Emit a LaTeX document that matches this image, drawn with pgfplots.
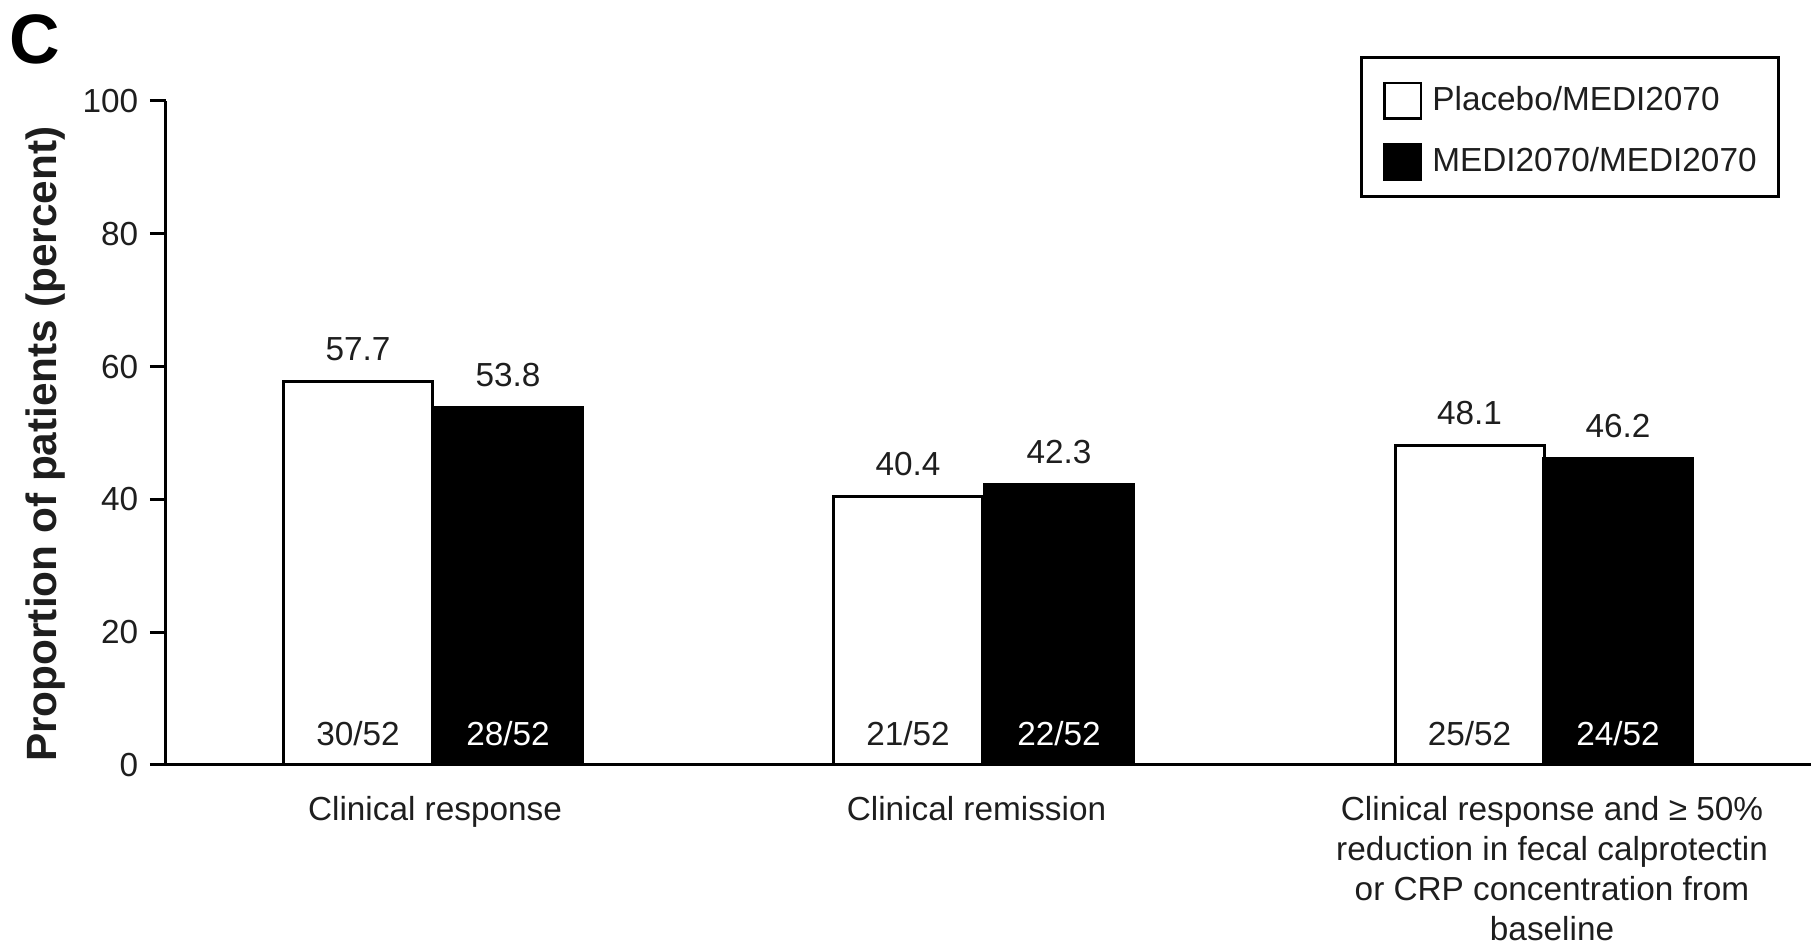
\documentclass[border=0pt]{standalone}
\usepackage{fontspec}
\setmainfont{Liberation Sans}
\usepackage{pgfplots}
\pgfplotsset{compat=1.18}
\definecolor{txt}{RGB}{30,30,30}
\begin{document}
\begin{tikzpicture}[x=1pt,y=1pt]
\path[use as bounding box] (-49.8,-53.7) rectangle (495.6,229.5);
\begin{axis}[
  at={(0pt,0pt)}, anchor=south west,
  scale only axis, width=493.5pt, height=199.2pt,
  xmin=166, xmax=1811, ymin=0, ymax=100,
  axis x line*=bottom, axis y line*=left,
  axis line style={-, line width=0.9pt, black},
  ytick={0,20,40,60,80,100},
  xtick={435,976.5,1552},
  xticklabels={Clinical response, Clinical remission, {Clinical response and ≥ 50\%\\reduction in fecal calprotectin\\or CRP concentration from\\baseline}},
  tick align=outside, major tick length=4.8pt,
  xtick style={draw=none},
  ytick style={line width=0.9pt, black},
  /pgf/number format/assume math mode=true,
  tick label style={font=\fontsize{10}{12}\selectfont, text=txt},
  xticklabel style={align=center, yshift=-1.2pt},
  ylabel={Proportion of patients (percent)},
  ylabel style={at={(axis description cs:-0.073,0.483)}, anchor=center, font=\fontsize{12.7}{15}\selectfont\bfseries, text=txt},
  legend style={at={(0.981,1.068)}, anchor=north east, draw=black, line width=0.9pt, font=\fontsize{10}{12}\selectfont, text=txt, inner xsep=6.5pt, inner ysep=4.8pt, row sep=4.5pt, column sep=3pt, nodes={inner sep=0pt}},
  legend cell align=left,
  legend image code/.code={\path (0pt,7.7pt); \draw[#1, line width=0.8pt] (0pt,-5.3pt) rectangle (11pt,5.3pt);},
  clip=false,
]
\addplot[ybar, bar width=149, bar shift=0pt, fill=white, draw=black, line width=0.9pt,
  nodes near coords, nodes near coords style={font=\fontsize{10}{12}\selectfont, text=txt, yshift=2.4pt}]
  coordinates {(358,57.7) (908,40.4) (1469.5,48.1)};
\addlegendentry{Placebo/MEDI2070}
\addplot[ybar, bar width=149, bar shift=0pt, fill=black, draw=black, line width=0.9pt,
  nodes near coords, nodes near coords style={font=\fontsize{10}{12}\selectfont, text=txt, yshift=2.4pt}]
  coordinates {(508,53.8) (1059,42.3) (1618,46.2)};
\addlegendentry{MEDI2070/MEDI2070}
\addplot[forget plot, draw=none, mark=none, nodes near coords, point meta=explicit symbolic,
  nodes near coords style={anchor=center, font=\fontsize{10}{12}\selectfont, text=txt}]
  coordinates {(358,4.7)[30/52] (908,4.7)[21/52] (1469.5,4.7)[25/52]};
\addplot[forget plot, draw=none, mark=none, nodes near coords, point meta=explicit symbolic,
  nodes near coords style={anchor=center, font=\fontsize{10}{12}\selectfont, text=white}]
  coordinates {(508,4.7)[28/52] (1059,4.7)[22/52] (1618,4.7)[24/52]};
\end{axis}
\node[font=\fontsize{21}{21}\selectfont\bfseries, anchor=center] at (-39.3,217.8) {C};
\end{tikzpicture}
\end{document}
